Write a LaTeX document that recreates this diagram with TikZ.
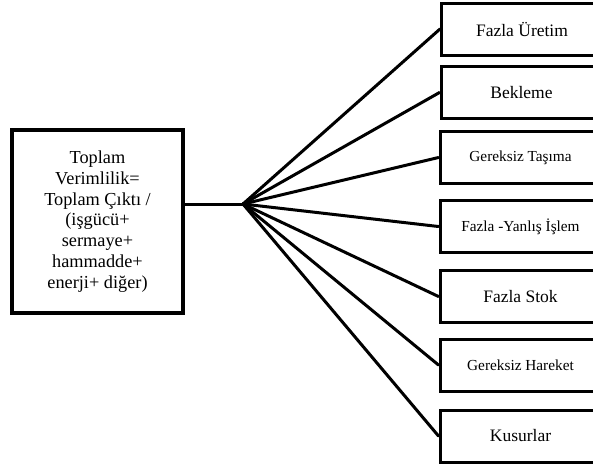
\documentclass[tikz,border=0pt]{standalone}
\usepackage{fontspec}
\setmainfont{Liberation Serif}
\begin{document}
\begin{tikzpicture}[x=1pt,y=-1pt,
  bigbox/.style={draw,line width=3.6pt,minimum width=171pt,minimum height=183pt,align=center,inner sep=0pt,font=\fontsize{18.3}{20.8}\selectfont},
  wastebox/.style={draw,line width=3pt,minimum width=161pt,minimum height=52pt,inner sep=0pt,font=\fontsize{17.5}{20}\selectfont},
  smalltext/.style={font=\fontsize{15.3}{18}\selectfont},
  conn/.style={line width=3pt,line cap=round}]
\useasboundingbox (0,0) rectangle (593,467);
\clip (0,0) rectangle (593,467);
\fill[white] (0,0) rectangle (593,467);
\node[bigbox] (lb) at (97.5,221.5) {Toplam\\Verimlilik=\\Toplam Çıktı /\\(işgücü+\\sermaye+\\hammadde+\\enerji+ diğer)};
\coordinate (hub) at (243,204);
\node[wastebox] (w1) at (522,29) {Fazla Üretim};
\node[wastebox] (w2) at (521.5,92.5) {Bekleme};
\node[wastebox,smalltext] (w3) at (520.5,157.5) {Gereksiz Taşıma};
\node[wastebox,smalltext] (w4) at (520.5,226.5) {Fazla -Yanlış İşlem};
\node[wastebox] (w5) at (520.5,296.5) {Fazla Stok};
\node[wastebox,smalltext] (w6) at (520.5,365) {Gereksiz Hareket};
\node[wastebox] (w7) at (520.5,436) {Kusurlar};
\draw[conn] (lb.east |- hub) -- (hub);
\foreach \w in {w1,w2,w3,w4,w5,w6,w7}
  \draw[conn] (hub) -- (\w.west);
\end{tikzpicture}
\end{document}
